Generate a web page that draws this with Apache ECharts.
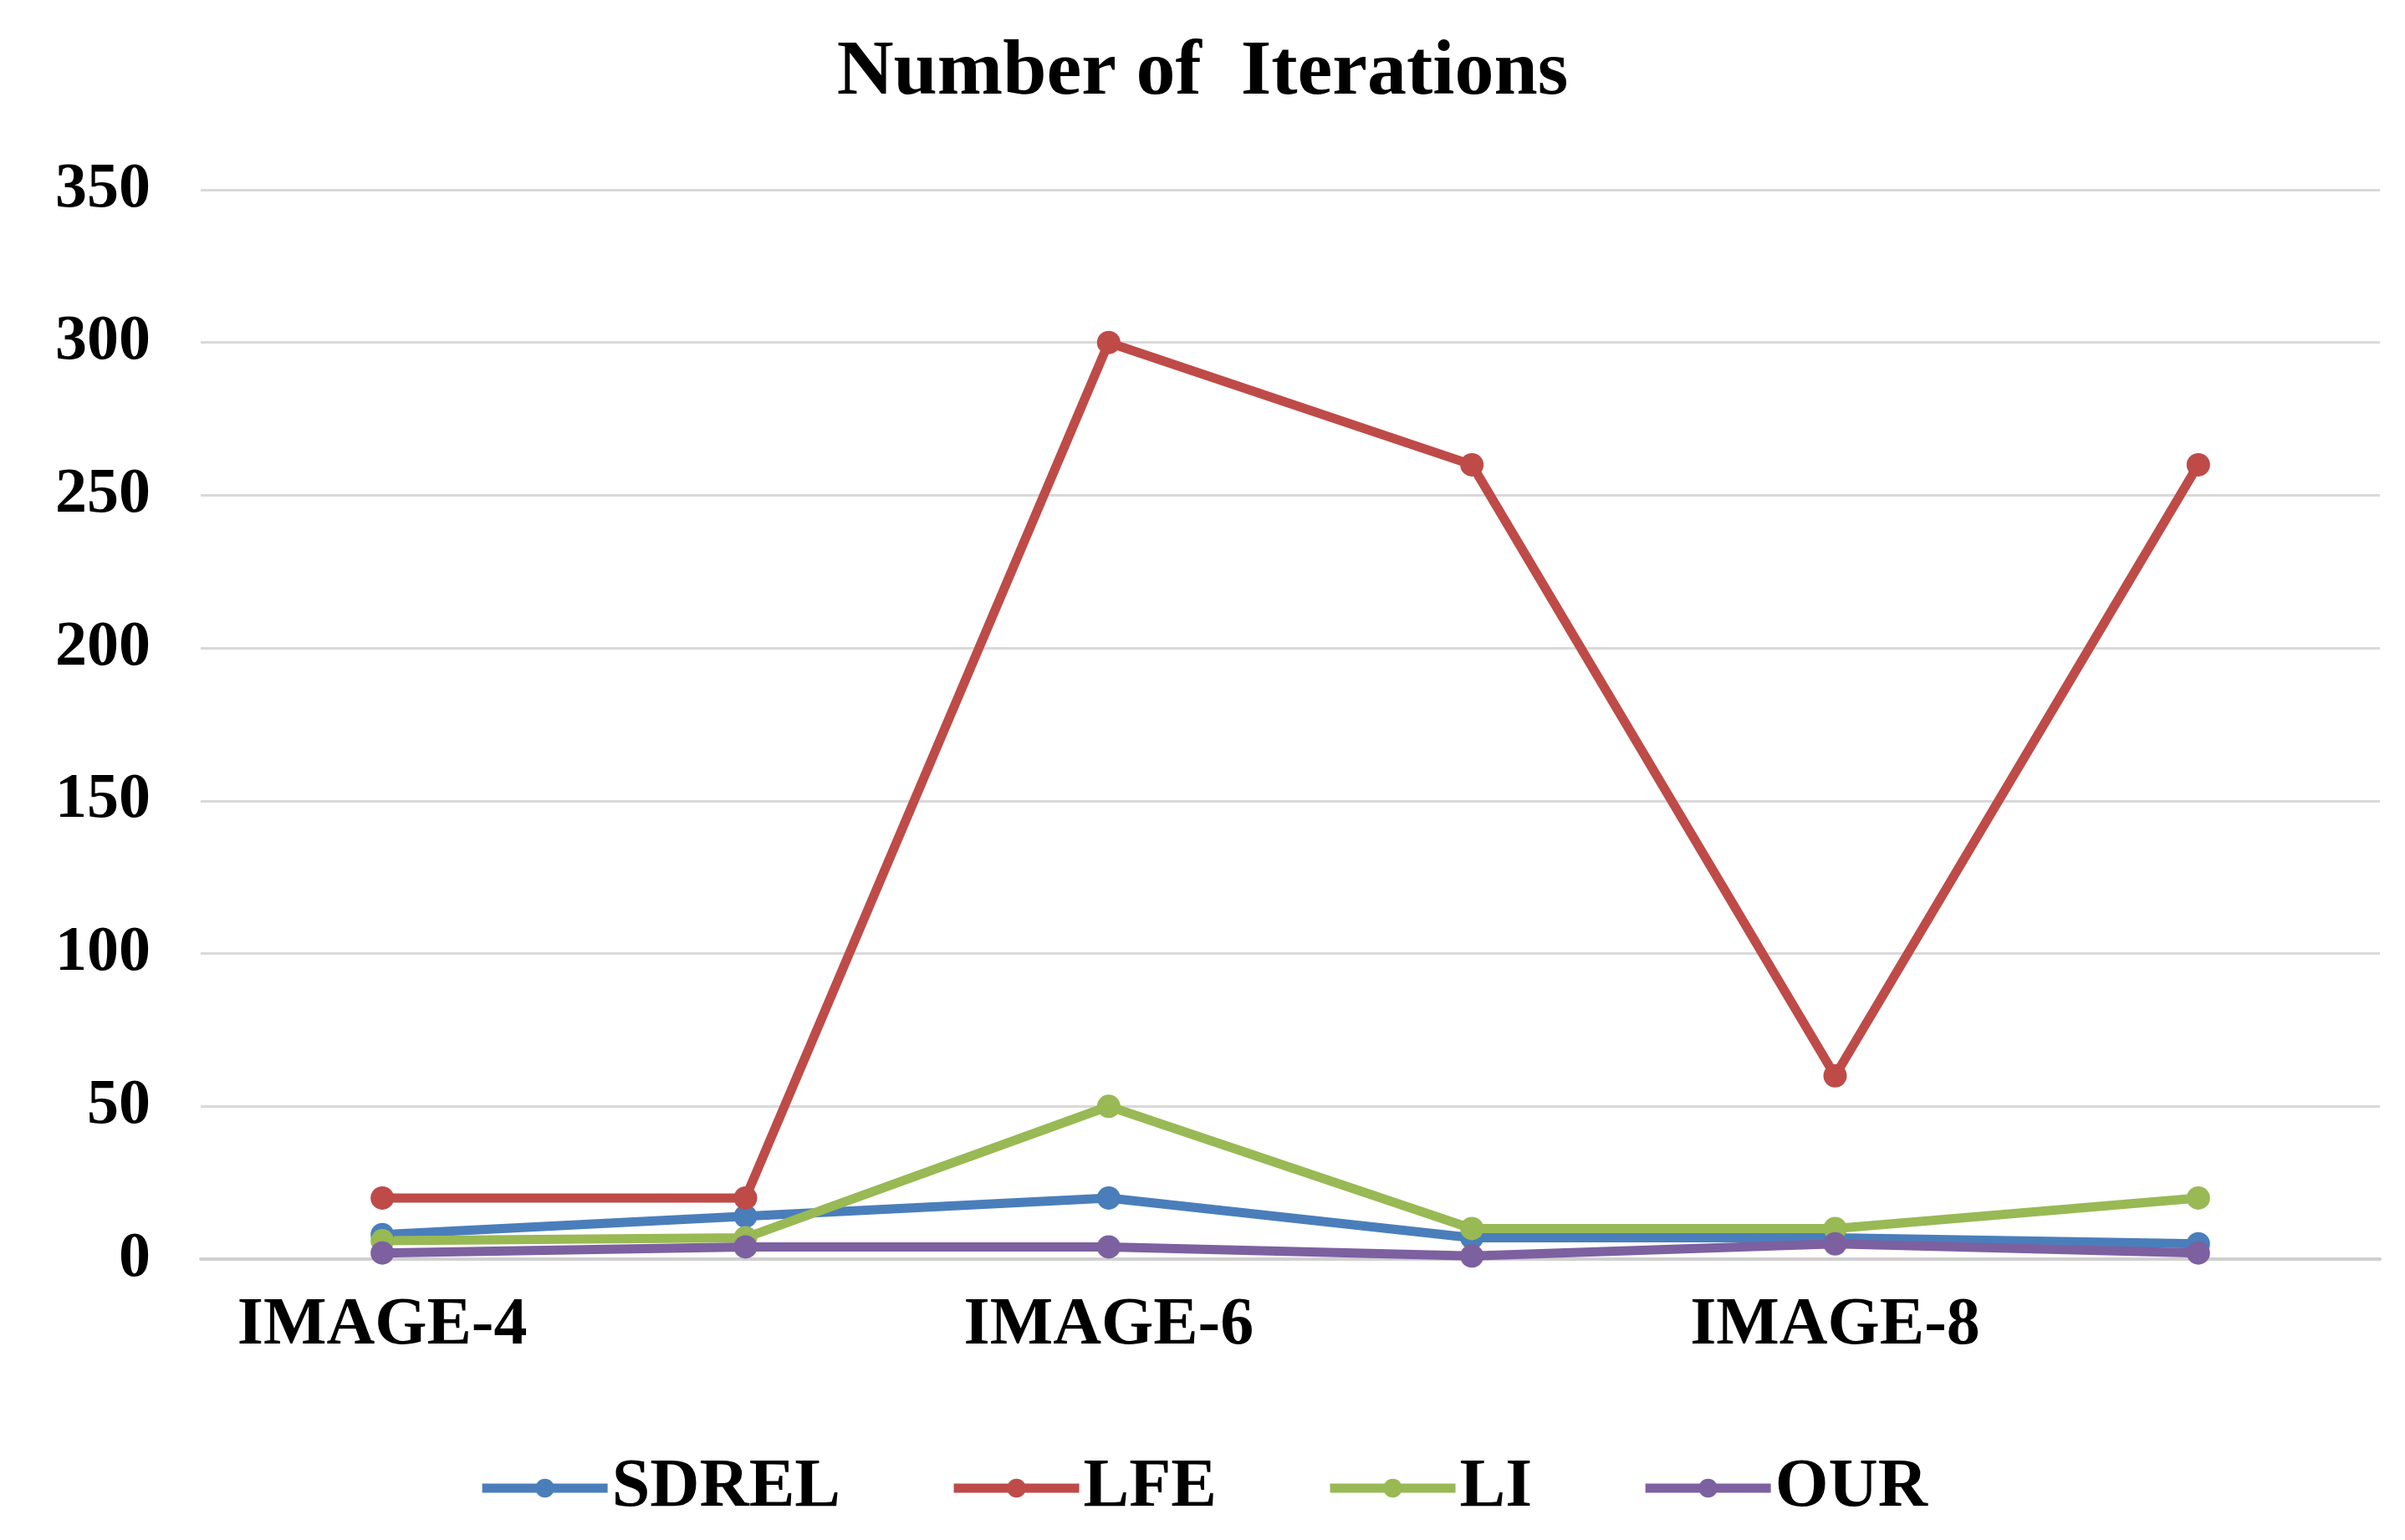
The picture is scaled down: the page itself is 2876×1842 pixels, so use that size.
<!DOCTYPE html>
<html>
<head>
<meta charset="utf-8">
<script src="https://cdn.jsdelivr.net/npm/echarts@6/dist/echarts.min.js"></script>
<style>html,body{margin:0;padding:0;background:#fff}#chart{width:2876px;height:1842px}</style>
</head>
<body>
<div id="chart"></div>
<script>
var categories = ['IMAGE-4', 'IMAGE-5', 'IMAGE-6', 'IMAGE-7', 'IMAGE-8', 'IMAGE-9'];
var sdrel = [8, 14, 20, 7, 7, 5];
var lfe = [20, 20, 300, 260, 60, 260];
var li = [6, 7, 50, 10, 10, 20];
var our = [2, 4, 4, 1, 5, 2];

var font = 'Liberation Serif';
var mk = function (name, data, color) {
    return {
        name: name, type: 'line', data: data,
        symbol: 'circle', symbolSize: 28,
        lineStyle: { width: 11, color: color },
        itemStyle: { color: color }
    };
};
var myeCharts = echarts.init(document.getElementById('chart'));
myeCharts.setOption({
    animation: false,
    title: {
        text: 'Number of  Iterations', left: 'center', top: 36,
        textStyle: { fontFamily: font, fontWeight: 'bold', fontSize: 94, color: '#000' }
    },
    legend: {
        bottom: 16, itemWidth: 150, itemHeight: 28, itemGap: 130,
        lineStyle: { width: 11 },
        textStyle: { fontFamily: font, fontWeight: 'bold', fontSize: 82, color: '#000' }
    },
    grid: { left: 240, right: 30, top: 227, bottom: 336 },
    xAxis: {
        type: 'category', data: categories, boundaryGap: true,
        axisLine: { lineStyle: { color: '#d0d0d0', width: 4 } },
        axisTick: { show: false },
        axisLabel: { fontFamily: font, fontWeight: 'bold', fontSize: 80, color: '#000', margin: 40 }
    },
    yAxis: {
        type: 'value', min: 0, max: 350, interval: 50,
        axisLine: { show: false }, axisTick: { show: false },
        splitLine: { lineStyle: { color: '#d9d9d9', width: 3 } },
        axisLabel: { fontFamily: font, fontWeight: 'bold', fontSize: 76, color: '#000', margin: 60 }
    },
    series: [
        mk('SDREL', sdrel, '#4a7ebb'),
        mk('LFE', lfe, '#be4b48'),
        mk('LI', li, '#98b954'),
        mk('OUR', our, '#7d60a0')
    ]
});
</script>
</body>
</html>
